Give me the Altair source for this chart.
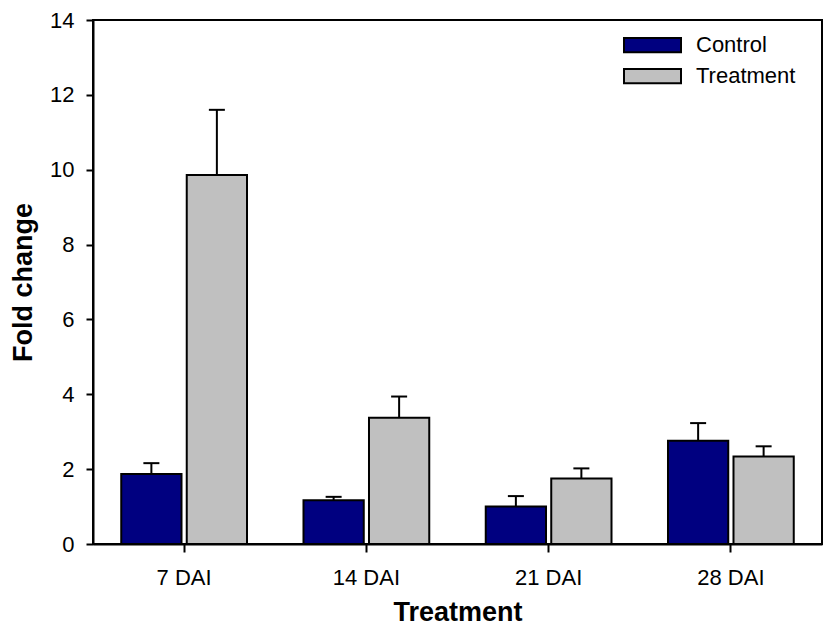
import altair as alt
import pandas as pd

categories = ["7 DAI", "14 DAI", "21 DAI", "28 DAI"]
groups = ["Control", "Treatment"]
control_mean = [1.87, 1.17, 1.00, 2.76]
control_err = [0.29, 0.09, 0.28, 0.47]
treatment_mean = [9.86, 3.37, 1.75, 2.34]
treatment_err = [1.74, 0.57, 0.27, 0.27]
y_ticks = [0, 2, 4, 6, 8, 10, 12, 14]
colors = ["#000080", "#C0C0C0"]

rows = []
for i, c in enumerate(categories):
    rows.append({"cat": c, "group": "Control", "mean": control_mean[i],
                 "upper": control_mean[i] + control_err[i]})
    rows.append({"cat": c, "group": "Treatment", "mean": treatment_mean[i],
                 "upper": treatment_mean[i] + treatment_err[i]})
df = pd.DataFrame(rows)

FONT = "Liberation Sans"

x = alt.X("cat:N", sort=categories,
          scale=alt.Scale(paddingInner=0.31, paddingOuter=0.155),
          axis=alt.Axis(title="Treatment", labelAngle=0, labelFontSize=22,
                        labelColor="black", labelFont=FONT, labelPadding=15,
                        tickSize=8, tickWidth=2, tickColor="black",
                        domainColor="black", domainWidth=2,
                        titleFontSize=27, titleFont=FONT, titleFontWeight="bold",
                        titleColor="black", titlePadding=11))
xo = alt.XOffset("group:N", sort=groups,
                 scale=alt.Scale(paddingInner=0.08, paddingOuter=0))
y_axis = alt.Axis(title="Fold change", values=y_ticks, grid=False,
                  labelFontSize=22, labelColor="black", labelFont=FONT,
                  labelPadding=12, tickSize=7, tickWidth=2, tickColor="black",
                  domainColor="black", domainWidth=2,
                  titleFontSize=27, titleFont=FONT, titleFontWeight="bold",
                  titleColor="black", titlePadding=12)
y_scale = alt.Scale(domain=[0, 14], nice=False)

base = alt.Chart(df)

bars = base.mark_bar(stroke="black", strokeWidth=2).encode(
    x=x, xOffset=xo,
    y=alt.Y("mean:Q", scale=y_scale, axis=y_axis),
    color=alt.Color("group:N", sort=groups,
                    scale=alt.Scale(domain=groups, range=colors),
                    legend=alt.Legend(title=None, orient="none", legendX=530,
                                      legendY=14, labelFontSize=22,
                                      labelFont=FONT, labelColor="black",
                                      symbolType="M-1,-0.25H1V0.25H-1Z",
                                      symbolSize=3249, symbolStrokeColor="black",
                                      symbolStrokeWidth=2, labelOffset=14,
                                      clipHeight=22, rowPadding=9,
                                      symbolOpacity=1)),
)

rules = base.mark_rule(color="black", strokeWidth=2).encode(
    x=x, xOffset=xo,
    y=alt.Y("upper:Q", scale=y_scale),
    y2="mean:Q",
)

caps = base.mark_tick(color="black", thickness=2, size=16, opacity=1).encode(
    x=x, xOffset=xo,
    y=alt.Y("upper:Q", scale=y_scale),
)

chart = alt.layer(bars, rules, caps).properties(
    width=729, height=524, background="white",
    autosize=alt.AutoSizeParams(type="none"),
    padding={"left": 85, "top": 12, "right": 2, "bottom": 84},
).configure_view(stroke="black", strokeWidth=2)

chart.save("out.html", embed_options={"renderer": "svg", "actions": False})
